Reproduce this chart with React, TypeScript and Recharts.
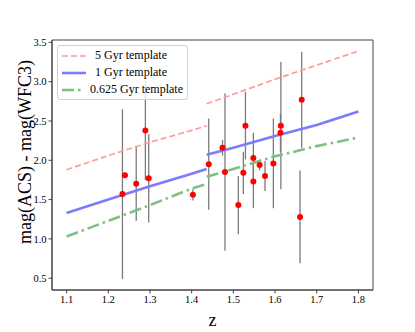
import {
  ComposedChart,
  Line,
  Scatter,
  XAxis,
  YAxis,
  ErrorBar,
  Legend,
  ReferenceArea,
} from "recharts";

const xTicks = [1.1, 1.2, 1.3, 1.4, 1.5, 1.6, 1.7, 1.8];
const yTicks = [0.5, 1.0, 1.5, 2.0, 2.5, 3.0, 3.5];

// templates are split at z ~ 1.436
const zLow = [1.1, 1.2, 1.3, 1.4, 1.436];
const zHigh = [1.436, 1.5, 1.6, 1.7, 1.8];
const gyr5Low = [1.88, 2.06, 2.23, 2.38, 2.44];
const gyr5High = [2.72, 2.84, 3.03, 3.21, 3.39];
const gyr1Low = [1.33, 1.5, 1.67, 1.83, 1.89];
const gyr1High = [2.07, 2.16, 2.31, 2.45, 2.62];
const gyr0625Low = [1.03, 1.23, 1.43, 1.64, 1.7];
const gyr0625High = [1.79, 1.89, 2.05, 2.18, 2.29];

const galaxyZ = [
  1.234, 1.24, 1.267, 1.289, 1.297, 1.403, 1.441, 1.474, 1.48, 1.512, 1.524,
  1.529, 1.548, 1.548, 1.563, 1.576, 1.596, 1.614, 1.613, 1.664, 1.66,
];
const galaxyColour = [
  1.57, 1.81, 1.7, 2.38, 1.77, 1.56, 1.95, 2.16, 1.85, 1.43, 1.84, 2.44, 2.03,
  1.73, 1.94, 1.8, 1.96, 2.44, 2.35, 2.77, 1.28,
];
const galaxyErr = [
  1.08, 0.02, 0.47, 0.63, 0.56, 0.07, 0.58, 0.1, 1.0, 0.37, 0.27, 0.43, 0.32,
  0.34, 0.07, 0.19, 0.57, 0.81, 0.24, 0.61, 0.59,
];

const SERIF = "'Liberation Serif', 'DejaVu Serif', serif";

const toPoints = (zs: number[], ys: number[]) => zs.map((x, i) => ({ x, y: ys[i] }));

const galaxies = galaxyZ.map((x, i) => ({
  x,
  y: galaxyColour[i],
  err: [galaxyErr[i], galaxyErr[i]],
}));

const templateStyle: Record<string, { width: number; dash?: string }> = {
  "5 Gyr template": { width: 1.7, dash: "6 3" },
  "1 Gyr template": { width: 2.6 },
  "0.625 Gyr template": { width: 2.6, dash: "12 4 2.5 4" },
};

function TemplateLegend({ payload }: any) {
  const items = Object.keys(templateStyle)
    .map((name) => (payload || []).find((e: any) => e.value === name))
    .filter(Boolean);
  return (
    <div
      style={{
        border: "1px solid #d0d0d0",
        borderRadius: 3,
        background: "rgba(255,255,255,0.8)",
        padding: "1px 4px",
        fontFamily: SERIF,
        fontSize: 12,
        color: "#000",
      }}
    >
      {items.map((entry: any) => {
        const s = templateStyle[entry.value];
        return (
          <div key={entry.value} style={{ display: "flex", alignItems: "center", height: 17 }}>
            <svg width={24} height={10}>
              <line x1={0} y1={5} x2={24} y2={5} stroke={entry.color} strokeWidth={s.width} strokeDasharray={s.dash} />
            </svg>
            <span style={{ marginLeft: 9, whiteSpace: "nowrap" }}>{entry.value}</span>
          </div>
        );
      })}
    </div>
  );
}

const tickStyle = { fontFamily: SERIF, fontSize: 10.5, fill: "#000", style: { fontFamily: SERIF } };

export default function App() {
  return (
    <div style={{ fontFamily: SERIF }}>
      <style>{"body{margin:0}"}</style>
      <ComposedChart width={415} height={332} margin={{ top: 40, right: 42, bottom: 0, left: 0 }}>
        <XAxis
          type="number"
          dataKey="x"
          domain={[1.065, 1.835]}
          ticks={xTicks}
          allowDataOverflow
          height={42}
          tickSize={3.5}
          stroke="#444"
          tick={tickStyle}
          tickFormatter={(v: number) => v.toFixed(1)}
          label={{ value: "z", position: "insideBottom", offset: 6, style: { fontFamily: SERIF, fontSize: 18, fill: "#000" } }}
        />
        <YAxis
          type="number"
          dataKey="y"
          domain={[0.35, 3.53]}
          ticks={yTicks}
          allowDataOverflow
          width={52}
          tickSize={3.5}
          stroke="#444"
          tick={tickStyle}
          tickFormatter={(v: number) => v.toFixed(1)}
          label={{
            value: "mag(ACS) - mag(WFC3)",
            angle: -90,
            position: "insideLeft",
            dx: 20,
            dy: -13,
            style: { fontFamily: SERIF, fontSize: 18, fill: "#000", textAnchor: "middle" },
          }}
        />
        <ReferenceArea x1={1.065} x2={1.835} y1={0.35} y2={3.53} fill="none" stroke="#444" ifOverflow="visible" />

        <Scatter data={galaxies} legendType="none" isAnimationActive={false} shape={() => <g />}>
          <ErrorBar dataKey="err" direction="y" width={0} stroke="#7a7a7a" strokeWidth={1.3} isAnimationActive={false} />
        </Scatter>

        <Line data={toPoints(zHigh, gyr5High)} dataKey="y" name="5 Gyr template" stroke="#ff9a9a" strokeWidth={1.7} strokeDasharray="6 3" dot={false} activeDot={false} isAnimationActive={false} />
        <Line data={toPoints(zHigh, gyr1High)} dataKey="y" name="1 Gyr template" stroke="#7b7bff" strokeWidth={2.6} dot={false} activeDot={false} isAnimationActive={false} />
        <Line data={toPoints(zHigh, gyr0625High)} dataKey="y" name="0.625 Gyr template" stroke="#7fbf7f" strokeWidth={2.6} strokeDasharray="12 4 2.5 4" dot={false} activeDot={false} isAnimationActive={false} />
        <Line data={toPoints(zLow, gyr5Low)} dataKey="y" legendType="none" stroke="#ff9a9a" strokeWidth={1.7} strokeDasharray="6 3" dot={false} activeDot={false} isAnimationActive={false} />
        <Line data={toPoints(zLow, gyr1Low)} dataKey="y" legendType="none" stroke="#7b7bff" strokeWidth={2.6} dot={false} activeDot={false} isAnimationActive={false} />
        <Line data={toPoints(zLow, gyr0625Low)} dataKey="y" legendType="none" stroke="#7fbf7f" strokeWidth={2.6} strokeDasharray="12 4 2.5 4" dot={false} activeDot={false} isAnimationActive={false} />

        <Scatter
          data={galaxies}
          legendType="none"
          isAnimationActive={false}
          shape={(p: any) => <circle cx={p.cx} cy={p.cy} r={3} fill="#ff0000" />}
        />

        <Legend
          layout="vertical"
          align="center"
          verticalAlign="middle"
          content={<TemplateLegend />}
          wrapperStyle={{ left: 57, top: 45, width: 131 }}
        />
      </ComposedChart>
    </div>
  );
}
